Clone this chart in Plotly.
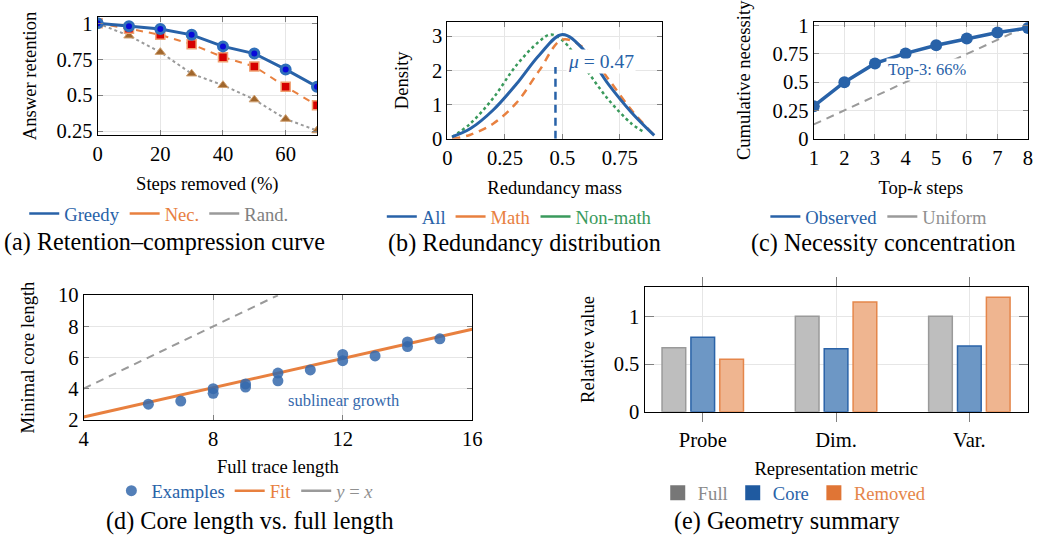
import plotly.graph_objects as go

# Figure canvas; the photographed page maps canvas px -> picture px roughly as
# out_x = 0.984*x + 6.5, out_y = 0.955*y + 11 (measured), so layout positions
# taken from the reference picture are converted back through that mapping.
W, H = 1038, 539
SX, OX, SY, OY = 0.984, 6.5, 0.955, 11.0
FS = 1 / 0.97  # font compensation
SERIF = "Liberation Serif, Times New Roman, Times, serif"

BLUE = "#2862a8"
ORANGE = "#e8803f"
GREEN = "#3a9a5c"
GRAY = "#9a9a9a"

# ---------------- data ----------------
# (a) retention-compression
steps_removed = [0, 10, 20, 30, 40, 50, 60, 70]
greedy = [1.0, 0.98, 0.96, 0.92, 0.84, 0.79, 0.68, 0.56]
necessity = [1.0, 0.963, 0.92, 0.855, 0.765, 0.70, 0.56, 0.43]
random_ = [1.0, 0.914, 0.80, 0.65, 0.57, 0.47, 0.335, 0.255]

# (b) redundancy distribution
red_x = [0.02, 0.1, 0.2, 0.3, 0.4, 0.5, 0.6, 0.7, 0.8, 0.9]
dens_all = [0.06, 0.3, 0.85, 1.6, 2.45, 3.05, 2.55, 1.6, 0.78, 0.1]
dens_math = [0.0, 0.12, 0.45, 1.05, 2.0, 2.9, 2.62, 1.75, 0.85, 0.1]
nonmath_x = [0.02, 0.1, 0.2, 0.3, 0.4, 0.45, 0.5, 0.6, 0.7, 0.8, 0.85]
dens_nonmath = [0.05, 0.45, 1.2, 2.15, 2.85, 3.05, 2.88, 2.05, 1.15, 0.45, 0.22]
mu_value = 0.47
mu_height = 2.1

# (c) necessity concentration
topk = [1, 2, 3, 4, 5, 6, 7, 8]
observed = [0.287, 0.50, 0.666, 0.755, 0.827, 0.887, 0.94, 0.98]
uniform = [0.125, 0.25, 0.375, 0.5, 0.625, 0.75, 0.875, 1.0]

# (d) core length vs full length
full_len = [6, 7, 8, 8, 9, 9, 10, 10, 11, 12, 12, 13, 14, 14, 15]
core_len = [3.0, 3.2, 4.0, 3.7, 4.3, 4.1, 5.0, 4.5, 5.2, 6.2, 5.8, 6.1, 7.0, 6.7, 7.2]
fit_x = [4, 16]
fit_y = [2.18, 7.82]
ident_x = [4, 10]
ident_y = [4, 10]

# (e) geometry summary
metrics = ["Probe", "Dim.", "Var."]
geo_full = [0.67, 1.0, 1.0]
geo_core = [0.78, 0.66, 0.69]
geo_removed = [0.55, 1.15, 1.2]


def fx(p):
    return min(1.0, max(0.0, ((p - OX) / SX) / W))


def fy(p):
    return min(1.0, max(0.0, 1 - ((p - OY) / SY) / H))


def fs(s):
    return round(s * FS, 1)


def col(c, t):
    return '<span style="color:%s">%s</span>' % (c, t)


fig = go.Figure()

# ---------- (a) ----------
fig.add_trace(go.Scatter(x=steps_removed, y=random_, mode="lines+markers", showlegend=False,
                         line=dict(color=GRAY, width=2, dash="dot"),
                         marker=dict(symbol="triangle-up", size=9, color="#a0662c",
                                     line=dict(color="#d0a070", width=1)),
                         xaxis="x", yaxis="y"))
fig.add_trace(go.Scatter(x=steps_removed, y=necessity, mode="lines+markers", showlegend=False,
                         line=dict(color=ORANGE, width=2, dash="7px,6px"),
                         marker=dict(symbol="square", size=9, color="#d60000",
                                     line=dict(color="#f0a070", width=1.5)),
                         xaxis="x", yaxis="y"))
fig.add_trace(go.Scatter(x=steps_removed, y=greedy, mode="lines+markers", showlegend=False,
                         line=dict(color=BLUE, width=3),
                         marker=dict(symbol="circle", size=9, color="#0a0ad8",
                                     line=dict(color="#2f6fba", width=3)),
                         xaxis="x", yaxis="y"))
for nm, c, tc in [("Greedy", BLUE, BLUE), ("Nec.", ORANGE, ORANGE), ("Rand.", GRAY, "#808080")]:
    fig.add_trace(go.Scatter(x=[None], y=[None], mode="lines", name=col(tc, nm),
                             line=dict(color=c, width=2.5), legend="legend",
                             xaxis="x", yaxis="y"))

# ---------- (b) ----------
fig.add_trace(go.Scatter(x=nonmath_x, y=dens_nonmath, mode="lines", showlegend=False,
                         line=dict(color=GREEN, width=2.5, dash="dot", shape="spline"),
                         xaxis="x2", yaxis="y2"))
fig.add_trace(go.Scatter(x=red_x, y=dens_math, mode="lines", showlegend=False,
                         line=dict(color=ORANGE, width=2.5, dash="8px,6px", shape="spline"),
                         xaxis="x2", yaxis="y2"))
fig.add_trace(go.Scatter(x=red_x, y=dens_all, mode="lines", showlegend=False,
                         line=dict(color=BLUE, width=3, shape="spline"),
                         xaxis="x2", yaxis="y2"))
fig.add_trace(go.Scatter(x=[mu_value, mu_value], y=[0, mu_height], mode="lines", showlegend=False,
                         line=dict(color=BLUE, width=2.5, dash="8px,5px"),
                         xaxis="x2", yaxis="y2"))
for nm, c in [("All", BLUE), ("Math", ORANGE), ("Non-math", GREEN)]:
    fig.add_trace(go.Scatter(x=[None], y=[None], mode="lines", name=col(c, nm),
                             line=dict(color=c, width=2.5), legend="legend2",
                             xaxis="x2", yaxis="y2"))

# ---------- (c) ----------
fig.add_trace(go.Scatter(x=topk, y=uniform, mode="lines", showlegend=False,
                         line=dict(color=GRAY, width=2, dash="8px,6px"),
                         xaxis="x3", yaxis="y3"))
fig.add_trace(go.Scatter(x=topk, y=observed, mode="lines+markers", showlegend=False,
                         line=dict(color=BLUE, width=3.5),
                         marker=dict(symbol="circle", size=12, color=BLUE),
                         xaxis="x3", yaxis="y3"))
for nm, c, tc in [("Observed", BLUE, BLUE), ("Uniform", GRAY, "#909090")]:
    fig.add_trace(go.Scatter(x=[None], y=[None], mode="lines", name=col(tc, nm),
                             line=dict(color=c, width=2.5), legend="legend3",
                             xaxis="x3", yaxis="y3"))

# ---------- (d) ----------
fig.add_trace(go.Scatter(x=ident_x, y=ident_y, mode="lines", showlegend=False,
                         line=dict(color=GRAY, width=2, dash="8px,6px"),
                         xaxis="x4", yaxis="y4"))
fig.add_trace(go.Scatter(x=fit_x, y=fit_y, mode="lines", showlegend=False,
                         line=dict(color=ORANGE, width=3),
                         xaxis="x4", yaxis="y4"))
fig.add_trace(go.Scatter(x=full_len, y=core_len, mode="markers", name=col(BLUE, "Examples"),
                         marker=dict(symbol="circle", size=11, color="#3568ac", opacity=0.85),
                         legend="legend4", xaxis="x4", yaxis="y4"))
for nm, c, tc in [("Fit", ORANGE, ORANGE), ("<i>y</i> = <i>x</i>", GRAY, "#909090")]:
    fig.add_trace(go.Scatter(x=[None], y=[None], mode="lines", name=col(tc, nm),
                             line=dict(color=c, width=2.5), legend="legend4",
                             xaxis="x4", yaxis="y4"))

# ---------- (e) ----------
for vals, fill, edge in [(geo_full, "#bebebe", "#9a9a9a"),
                         (geo_core, "#6d97c5", "#2a63a8"),
                         (geo_removed, "#efb590", "#e5864a")]:
    fig.add_trace(go.Bar(x=metrics, y=vals, showlegend=False,
                         marker=dict(color=fill, line=dict(color=edge, width=1.5)),
                         xaxis="x5", yaxis="y5"))
for nm, c, tc in [("Full", "#777777", "#8a8a8a"), ("Core", "#1f5aa0", "#2a63a8"),
                  ("Removed", "#e07535", "#e5864a")]:
    fig.add_trace(go.Scatter(x=[None], y=[None], mode="markers", name=col(tc, nm),
                             marker=dict(symbol="square", size=15, color=c),
                             legend="legend5", xaxis="x5", yaxis="y5"))


# ---------------- layout ----------------
def axis_style(**kw):
    d = dict(showline=True, linecolor="black", linewidth=1, mirror="ticks",
             showgrid=True, gridcolor="#e6e6e6", gridwidth=1, zeroline=False,
             ticks="inside", ticklen=5, tickcolor="#808080", tickwidth=1,
             tickfont=dict(family=SERIF, size=fs(20), color="black"),
             ticklabelstandoff=0)
    d.update(kw)
    return d


def xtitle(t, standoff=13):
    return dict(text=t, font=dict(family=SERIF, size=fs(18), color="black"), standoff=standoff)


def ytitle(t, standoff=14):
    return dict(text=t, font=dict(family=SERIF, size=fs(18), color="black"), standoff=standoff)


layout = dict(
    width=W, height=H, margin=dict(l=0, r=0, t=0, b=0),
    paper_bgcolor="white", plot_bgcolor="white",
    font=dict(family=SERIF, size=fs(18), color="black"),
    barmode="group", bargap=0.35, bargroupgap=0.18,
    xaxis=axis_style(domain=[fx(99), fx(318)], anchor="y", range=[0, 70],
                     tickvals=[0, 20, 40, 60], title=xtitle("Steps removed (%)")),
    yaxis=axis_style(domain=[fy(134.3), fy(17)], anchor="x", range=[0.225, 1.044],
                     tickvals=[0.25, 0.5, 0.75, 1], ticktext=["0.25", "0.5", "0.75", "1"],
                     title=ytitle("Answer retention", 14)),
    xaxis2=axis_style(domain=[fx(448.3), fx(662.3)], anchor="y2", range=[0, 0.933],
                      tickvals=[0, 0.25, 0.5, 0.75], ticktext=["0", "0.25", "0.5", "0.75"],
                      title=xtitle("Redundancy mass")),
    yaxis2=axis_style(domain=[fy(138.3), fy(21.7)], anchor="x2", range=[0, 3.42],
                      tickvals=[0, 1, 2, 3], title=ytitle("Density", 18)),
    xaxis3=axis_style(domain=[fx(814), fx(1033.3)], anchor="y3", range=[1, 8],
                      tickvals=topk, title=xtitle("Top-<i>k</i> steps")),
    yaxis3=axis_style(domain=[fy(138.3), fy(21.7)], anchor="x3", range=[-0.003, 1.036],
                      tickvals=[0, 0.25, 0.5, 0.75, 1], ticktext=["0", "0.25", "0.5", "0.75", "1"],
                      title=ytitle("Cumulative necessity", 17)),
    xaxis4=axis_style(domain=[fx(85), fx(473)], anchor="y4", range=[4, 16],
                      tickvals=[4, 8, 12, 16], title=xtitle("Full trace length", 11)),
    yaxis4=axis_style(domain=[fy(418), fy(294)], anchor="x4", range=[2, 10],
                      tickvals=[2, 4, 6, 8, 10], title=ytitle("Minimal core length", 18)),
    xaxis5=axis_style(domain=[fx(645), fx(1032.7)], anchor="y5", type="category",
                      range=[-0.437, 2.44], ticks="outside", ticklen=9,
                      ticklabelstandoff=1,
                      title=xtitle("Representation metric", 11)),
    yaxis5=axis_style(domain=[fy(410), fy(286)], anchor="x5", range=[0, 1.305],
                      tickvals=[0, 0.5, 1], ticklen=9, title=ytitle("Relative value", 14)),
)


def legend_at(cx, cy):
    return dict(orientation="h", x=fx(cx), xanchor="center", y=fy(cy), yanchor="middle",
                bgcolor="rgba(0,0,0,0)", font=dict(family=SERIF, size=fs(18)),
                itemwidth=30, tracegroupgap=0)


layout["legend"] = legend_at(160, 213)
layout["legend2"] = legend_at(520, 216)
layout["legend3"] = legend_at(879, 216)
layout["legend4"] = legend_at(247, 489)
layout["legend5"] = legend_at(795, 491)

annotations = []
# in-plot labels
annotations.append(dict(x=0.516, y=2.25, xref="x2", yref="y2", xanchor="left", yanchor="middle",
                        text="<i>μ</i> = 0.47", showarrow=False, bgcolor="white",
                        font=dict(family=SERIF, size=fs(19), color=BLUE)))
annotations.append(dict(x=3.37, y=0.61, xref="x3", yref="y3", xanchor="left", yanchor="middle",
                        text="Top-3: 66%", showarrow=False, bgcolor="white",
                        font=dict(family=SERIF, size=fs(16), color=BLUE)))
annotations.append(dict(x=12.05, y=3.25, xref="x4", yref="y4", xanchor="center", yanchor="middle",
                        text="sublinear growth", showarrow=False,
                        font=dict(family=SERIF, size=fs(16), color="#3568ac")))
# captions
for t, cx, cy in [("(a) Retention–compression curve", 166, 241),
                  ("(b) Redundancy distribution", 525, 242),
                  ("(c) Necessity concentration", 884, 242),
                  ("(d) Core length vs. full length", 251, 518.5),
                  ("(e) Geometry summary", 787, 518.5)]:
    annotations.append(dict(x=fx(cx), y=fy(cy), xref="paper", yref="paper",
                            xanchor="center", yanchor="middle", text=t, showarrow=False,
                            font=dict(family=SERIF, size=fs(23.5), color="black")))
layout["annotations"] = annotations

fig.update_layout(**layout)
fig.write_html("out.html")
